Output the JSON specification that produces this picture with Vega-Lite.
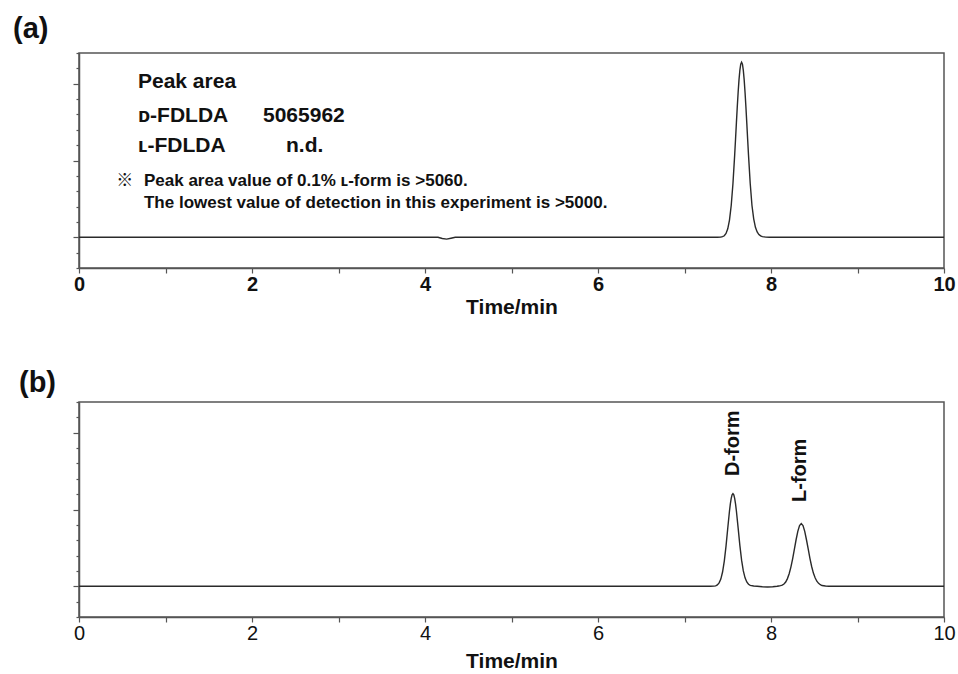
{
  "$schema": "https://vega.github.io/schema/vega-lite/v6.json",
  "background": "white",
  "padding": {"left": 12, "top": 14, "right": 4, "bottom": 0},
  "config": {
    "font": "Liberation Sans",
    "view": {"stroke": "#555", "strokeWidth": 1.5}
  },
  "datasets": {
    "curveA": [
      {"t": 0, "s": 0}, {"t": 4.15, "s": 0}, {"t": 4.2, "s": -0.08}, {"t": 4.25, "s": -0.12}, {"t": 4.3, "s": -0.06}, {"t": 4.35, "s": 0},
      {"t": 7.38, "s": 0}, {"t": 7.42, "s": 0.02}, {"t": 7.44, "s": 0.04}, {"t": 7.46, "s": 0.1}, {"t": 7.48, "s": 0.25}, {"t": 7.5, "s": 0.55},
      {"t": 7.52, "s": 1.12}, {"t": 7.54, "s": 2.07}, {"t": 7.56, "s": 3.49}, {"t": 7.58, "s": 5.35}, {"t": 7.59, "s": 6.38}, {"t": 7.6, "s": 7.45},
      {"t": 7.61, "s": 8.48}, {"t": 7.62, "s": 9.43}, {"t": 7.63, "s": 10.25}, {"t": 7.64, "s": 10.87}, {"t": 7.65, "s": 11.27}, {"t": 7.66, "s": 11.4},
      {"t": 7.67, "s": 11.27}, {"t": 7.68, "s": 10.87}, {"t": 7.69, "s": 10.25}, {"t": 7.7, "s": 9.43}, {"t": 7.71, "s": 8.48}, {"t": 7.72, "s": 7.45},
      {"t": 7.73, "s": 6.38}, {"t": 7.74, "s": 5.35}, {"t": 7.76, "s": 3.49}, {"t": 7.78, "s": 2.07}, {"t": 7.8, "s": 1.2}, {"t": 7.82, "s": 0.65},
      {"t": 7.84, "s": 0.35}, {"t": 7.86, "s": 0.18}, {"t": 7.88, "s": 0.09}, {"t": 7.9, "s": 0.04}, {"t": 7.94, "s": 0.01}, {"t": 7.98, "s": 0},
      {"t": 10, "s": 0}
    ],
    "curveB": [
      {"t": 0, "s": 0}, {"t": 7.3, "s": 0}, {"t": 7.34, "s": 0.01}, {"t": 7.36, "s": 0.03}, {"t": 7.38, "s": 0.09}, {"t": 7.4, "s": 0.22},
      {"t": 7.42, "s": 0.47}, {"t": 7.44, "s": 0.93}, {"t": 7.46, "s": 1.64}, {"t": 7.48, "s": 2.62}, {"t": 7.5, "s": 3.78}, {"t": 7.52, "s": 4.9},
      {"t": 7.53, "s": 5.37}, {"t": 7.54, "s": 5.72}, {"t": 7.55, "s": 5.95}, {"t": 7.56, "s": 6.03}, {"t": 7.57, "s": 5.95}, {"t": 7.58, "s": 5.72},
      {"t": 7.59, "s": 5.37}, {"t": 7.6, "s": 4.9}, {"t": 7.62, "s": 3.8}, {"t": 7.64, "s": 2.66}, {"t": 7.66, "s": 1.7}, {"t": 7.68, "s": 1.0},
      {"t": 7.7, "s": 0.55}, {"t": 7.72, "s": 0.28}, {"t": 7.74, "s": 0.13}, {"t": 7.76, "s": 0.06}, {"t": 7.8, "s": 0.02}, {"t": 7.84, "s": 0},
      {"t": 7.9, "s": -0.03}, {"t": 7.96, "s": -0.05}, {"t": 8.02, "s": -0.03}, {"t": 8.07, "s": 0},
      {"t": 8.09, "s": 0.02}, {"t": 8.11, "s": 0.04}, {"t": 8.13, "s": 0.08}, {"t": 8.15, "s": 0.15}, {"t": 8.17, "s": 0.28}, {"t": 8.19, "s": 0.5},
      {"t": 8.21, "s": 0.82}, {"t": 8.23, "s": 1.25}, {"t": 8.25, "s": 1.79}, {"t": 8.27, "s": 2.41}, {"t": 8.29, "s": 3.03}, {"t": 8.31, "s": 3.58},
      {"t": 8.33, "s": 3.95}, {"t": 8.35, "s": 4.08}, {"t": 8.37, "s": 3.95}, {"t": 8.39, "s": 3.58}, {"t": 8.41, "s": 3.03}, {"t": 8.43, "s": 2.43},
      {"t": 8.45, "s": 1.82}, {"t": 8.47, "s": 1.29}, {"t": 8.49, "s": 0.86}, {"t": 8.51, "s": 0.55}, {"t": 8.53, "s": 0.33}, {"t": 8.55, "s": 0.19},
      {"t": 8.57, "s": 0.1}, {"t": 8.59, "s": 0.05}, {"t": 8.63, "s": 0.02}, {"t": 8.67, "s": 0}, {"t": 10, "s": 0}
    ],
    "notesA": [
      {"kind": "header", "label": "Peak area", "t": 0.682, "s": 9.72},
      {"kind": "header", "label": "ᴅ-FDLDA", "t": 0.682, "s": 7.51},
      {"kind": "header", "label": "5065962", "t": 2.127, "s": 7.51},
      {"kind": "header", "label": "ʟ-FDLDA", "t": 0.682, "s": 5.55},
      {"kind": "header", "label": "n.d.", "t": 2.393, "s": 5.55},
      {"kind": "mark", "label": "※", "t": 0.43, "s": 3.34},
      {"kind": "note", "label": "Peak area value of 0.1% ʟ-form is >5060.", "t": 0.751, "s": 3.34},
      {"kind": "note", "label": "The lowest value of detection in this experiment is >5000.", "t": 0.751, "s": 1.91}
    ],
    "notesB": [
      {"label": "D-form", "t": 7.566, "s": 7.18},
      {"label": "L-form", "t": 8.33, "s": 5.49}
    ]
  },
  "bounds": "flush",
  "spacing": 134,
  "vconcat": [
    {
      "width": 865,
      "height": 215,
      "title": {"text": "(a)", "anchor": "start", "frame": "group", "dx": -66, "offset": 8, "fontSize": 29, "fontWeight": "bold", "color": "#111"},
      "encoding": {
        "x": {
          "field": "t", "type": "quantitative", "title": "Time/min",
          "scale": {"domain": [0, 10], "nice": false, "zero": false},
          "axis": {
            "tickCount": 50,
            "format": "d",
            "labelExpr": "datum.value % 2 === 0 ? datum.label : ''",
            "tickSize": {"condition": {"test": "datum.value % 1 === 0", "value": 5}, "value": 3},
            "labelFontSize": 20, "labelFontWeight": "bold", "labelColor": "#111", "labelPadding": 1,
            "labelFlush": false, "labelOverlap": false,
            "titleFontSize": 21, "titleFontWeight": "bold", "titleColor": "#111", "titlePadding": 2,
            "domainColor": "#555", "domainWidth": 1.5, "tickColor": "#555", "tickWidth": 1.2, "grid": false
          }
        },
        "y": {
          "field": "s", "type": "quantitative", "title": null,
          "scale": {"domain": [-2, 12], "nice": false, "zero": false},
          "axis": {
            "tickCount": 14,
            "labels": false,
            "tickSize": {"condition": {"test": "datum.value % 5 === 0", "value": 6}, "value": 3},
            "domainColor": "#555", "domainWidth": 1.5, "tickColor": "#555", "tickWidth": 1.2, "grid": false
          }
        }
      },
      "layer": [
        {
          "data": {"name": "curveA"},
          "mark": {"type": "line", "color": "#2a2a2a", "strokeWidth": 1.4}
        },
        {
          "data": {"name": "notesA"},
          "transform": [{"filter": "datum.kind === 'header'"}],
          "mark": {"type": "text", "align": "left", "baseline": "alphabetic", "fontSize": 21, "fontWeight": "bold", "color": "#111"},
          "encoding": {"text": {"field": "label"}}
        },
        {
          "data": {"name": "notesA"},
          "transform": [{"filter": "datum.kind === 'note'"}],
          "mark": {"type": "text", "align": "left", "baseline": "alphabetic", "fontSize": 17, "fontWeight": "bold", "color": "#111"},
          "encoding": {"text": {"field": "label"}}
        },
        {
          "data": {"name": "notesA"},
          "transform": [{"filter": "datum.kind === 'mark'"}],
          "mark": {"type": "text", "align": "left", "baseline": "alphabetic", "fontSize": 17, "fontWeight": "bold", "font": "Noto Sans CJK JP", "color": "#111"},
          "encoding": {"text": {"field": "label"}}
        }
      ]
    },
    {
      "width": 865,
      "height": 215,
      "title": {"text": "(b)", "anchor": "start", "frame": "group", "dx": -60, "offset": 3, "fontSize": 29, "fontWeight": "bold", "color": "#111"},
      "encoding": {
        "x": {
          "field": "t", "type": "quantitative", "title": "Time/min",
          "scale": {"domain": [0, 10], "nice": false, "zero": false},
          "axis": {
            "tickCount": 50,
            "format": "d",
            "labelExpr": "datum.value % 2 === 0 ? datum.label : ''",
            "tickSize": {"condition": {"test": "datum.value % 1 === 0", "value": 5}, "value": 3},
            "labelFontSize": 20, "labelFontWeight": "normal", "labelColor": "#111", "labelPadding": 1,
            "labelFlush": false, "labelOverlap": false,
            "titleFontSize": 21, "titleFontWeight": "bold", "titleColor": "#111", "titlePadding": 7,
            "domainColor": "#555", "domainWidth": 1.5, "tickColor": "#555", "tickWidth": 1.2, "grid": false
          }
        },
        "y": {
          "field": "s", "type": "quantitative", "title": null,
          "scale": {"domain": [-2, 12], "nice": false, "zero": false},
          "axis": {
            "tickCount": 14,
            "labels": false,
            "tickSize": {"condition": {"test": "datum.value % 5 === 0", "value": 6}, "value": 3},
            "domainColor": "#555", "domainWidth": 1.5, "tickColor": "#555", "tickWidth": 1.2, "grid": false
          }
        }
      },
      "layer": [
        {
          "data": {"name": "curveB"},
          "mark": {"type": "line", "color": "#2a2a2a", "strokeWidth": 1.4}
        },
        {
          "data": {"name": "notesB"},
          "mark": {"type": "text", "align": "left", "baseline": "middle", "angle": 270, "fontSize": 20, "fontWeight": "bold", "color": "#111"},
          "encoding": {"text": {"field": "label"}}
        }
      ]
    }
  ]
}
